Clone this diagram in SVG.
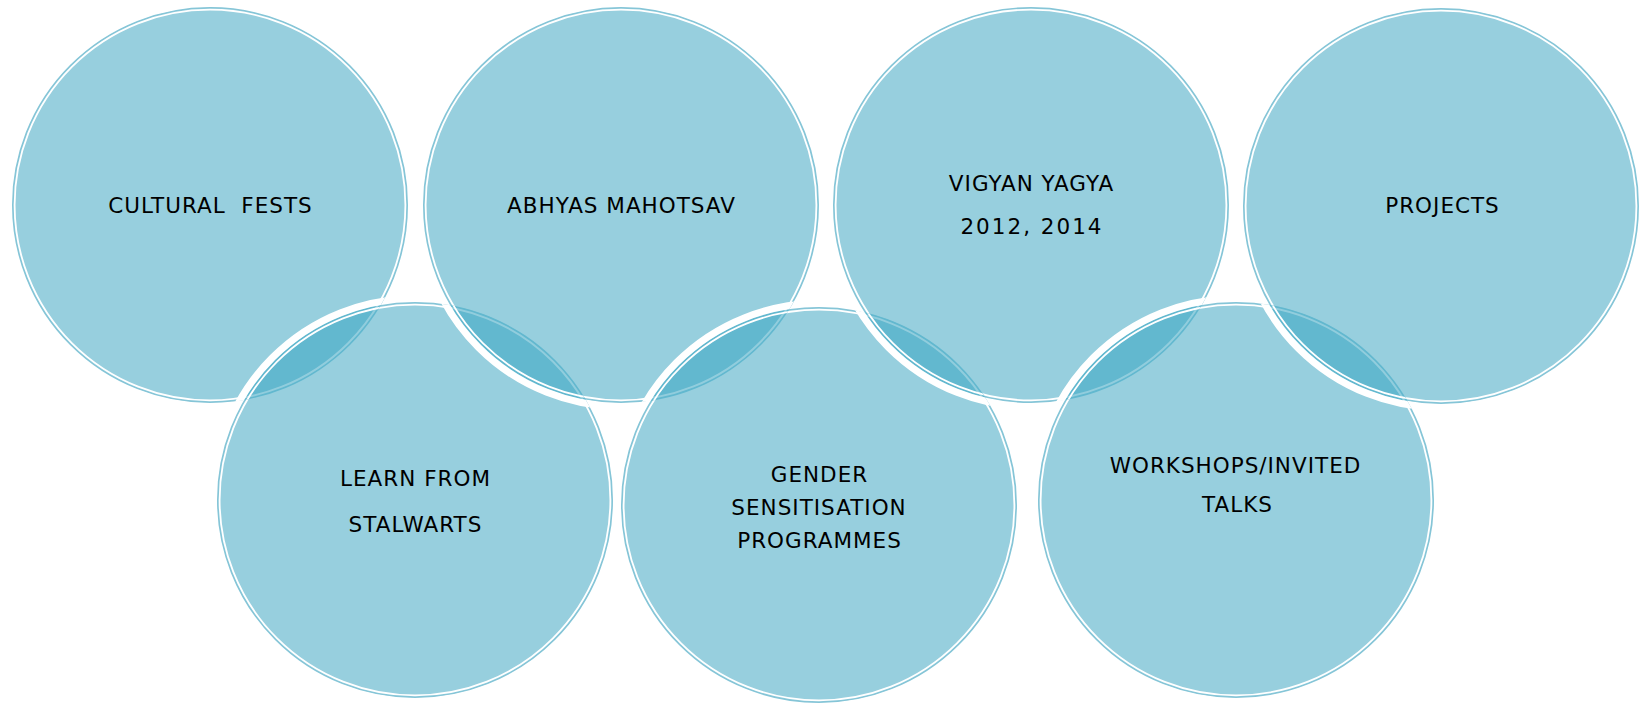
<svg xmlns="http://www.w3.org/2000/svg" width="1642" height="707" viewBox="0 0 1642 707">
<style>
.disc{fill:#97CFDE;stroke:#85C5D7;stroke-width:1.6}
.ring{fill:none;stroke:#FFFFFF;stroke-width:1.8}
.lens{fill:#62B8CF}
.faint{fill:none;stroke:#FFFFFF;stroke-opacity:0.3;stroke-width:2}
.halo{fill:none;stroke:#FFFFFF;stroke-width:7}
.lbl{font-family:"DejaVu Sans","Liberation Sans",sans-serif;font-size:21.5px;letter-spacing:1px;fill:#000000;text-anchor:middle}
</style>
<defs>
<clipPath id="kC"><circle cx="210" cy="205" r="198"/></clipPath>
<clipPath id="kAb"><circle cx="621" cy="205" r="198"/></clipPath>
<clipPath id="kV"><circle cx="1031" cy="205" r="198"/></clipPath>
<clipPath id="kP"><circle cx="1441" cy="206" r="198"/></clipPath>
<clipPath id="kL"><circle cx="415" cy="500" r="198"/></clipPath>
<clipPath id="kG"><circle cx="819" cy="505" r="198"/></clipPath>
<clipPath id="kW"><circle cx="1236" cy="500" r="198"/></clipPath>
</defs>
<rect width="1642" height="707" fill="#FFFFFF"/>

<g id="cultural-fests">
<circle class="disc" cx="210" cy="205" r="197.2"/>
<circle class="ring" cx="210" cy="205" r="195.4"/>
<text class="lbl" x="210.5" y="213" xml:space="preserve">CULTURAL  FESTS</text>
</g>
<g id="abhyas-mahotsav">
<circle class="disc" cx="621" cy="205" r="197.2"/>
<circle class="ring" cx="621" cy="205" r="195.4"/>
<text class="lbl" x="621.5" y="213">ABHYAS MAHOTSAV</text>
</g>
<g id="vigyan-yagya">
<circle class="disc" cx="1031" cy="205" r="197.2"/>
<circle class="ring" cx="1031" cy="205" r="195.4"/>
<text class="lbl" x="1031.5" y="191">VIGYAN YAGYA</text>
<text class="lbl" x="1032" y="234" style="letter-spacing:2px">2012, 2014</text>
</g>
<g id="projects">
<circle class="disc" cx="1441" cy="206" r="197.2"/>
<circle class="ring" cx="1441" cy="206" r="195.4"/>
<text class="lbl" x="1442.5" y="213">PROJECTS</text>
</g>
<g id="learn-from-stalwarts">
<circle class="disc" cx="415" cy="500" r="197.2"/>
<circle class="ring" cx="415" cy="500" r="195.4"/>
<text class="lbl" x="415.5" y="486">LEARN FROM</text>
<text class="lbl" x="415.5" y="532">STALWARTS</text>
</g>
<g id="gender-sensitisation">
<circle class="disc" cx="819" cy="505" r="197.2"/>
<circle class="ring" cx="819" cy="505" r="195.4"/>
<text class="lbl" x="819.5" y="482">GENDER</text>
<text class="lbl" x="819" y="515">SENSITISATION</text>
<text class="lbl" x="819.5" y="548">PROGRAMMES</text>
</g>
<g id="workshops">
<circle class="disc" cx="1236" cy="500" r="197.2"/>
<circle class="ring" cx="1236" cy="500" r="195.4"/>
<text class="lbl" x="1235.5" y="473">WORKSHOPS/INVITED</text>
<text class="lbl" x="1237.5" y="512">TALKS</text>
</g>

<g id="connectors">
<g>
<circle class="lens" cx="210" cy="205" r="198" clip-path="url(#kL)"/>
<circle class="faint" cx="210" cy="205" r="195.4" clip-path="url(#kL)"/>
<circle class="halo" cx="415" cy="500" r="201.5" clip-path="url(#kC)"/>
<circle class="ring" cx="415" cy="500" r="195.4" clip-path="url(#kC)"/>
</g>
<g>
<circle class="lens" cx="415" cy="500" r="198" clip-path="url(#kAb)"/>
<circle class="faint" cx="415" cy="500" r="195.4" clip-path="url(#kAb)"/>
<circle class="halo" cx="621" cy="205" r="201.5" clip-path="url(#kL)"/>
<circle class="ring" cx="621" cy="205" r="195.4" clip-path="url(#kL)"/>
</g>
<g>
<circle class="lens" cx="621" cy="205" r="198" clip-path="url(#kG)"/>
<circle class="faint" cx="621" cy="205" r="195.4" clip-path="url(#kG)"/>
<circle class="halo" cx="819" cy="505" r="201.5" clip-path="url(#kAb)"/>
<circle class="ring" cx="819" cy="505" r="195.4" clip-path="url(#kAb)"/>
</g>
<g>
<circle class="lens" cx="819" cy="505" r="198" clip-path="url(#kV)"/>
<circle class="faint" cx="819" cy="505" r="195.4" clip-path="url(#kV)"/>
<circle class="halo" cx="1031" cy="205" r="201.5" clip-path="url(#kG)"/>
<circle class="ring" cx="1031" cy="205" r="195.4" clip-path="url(#kG)"/>
</g>
<g>
<circle class="lens" cx="1031" cy="205" r="198" clip-path="url(#kW)"/>
<circle class="faint" cx="1031" cy="205" r="195.4" clip-path="url(#kW)"/>
<circle class="halo" cx="1236" cy="500" r="201.5" clip-path="url(#kV)"/>
<circle class="ring" cx="1236" cy="500" r="195.4" clip-path="url(#kV)"/>
</g>
<g>
<circle class="lens" cx="1236" cy="500" r="198" clip-path="url(#kP)"/>
<circle class="faint" cx="1236" cy="500" r="195.4" clip-path="url(#kP)"/>
<circle class="halo" cx="1441" cy="206" r="201.5" clip-path="url(#kW)"/>
<circle class="ring" cx="1441" cy="206" r="195.4" clip-path="url(#kW)"/>
</g>
</g>
</svg>
